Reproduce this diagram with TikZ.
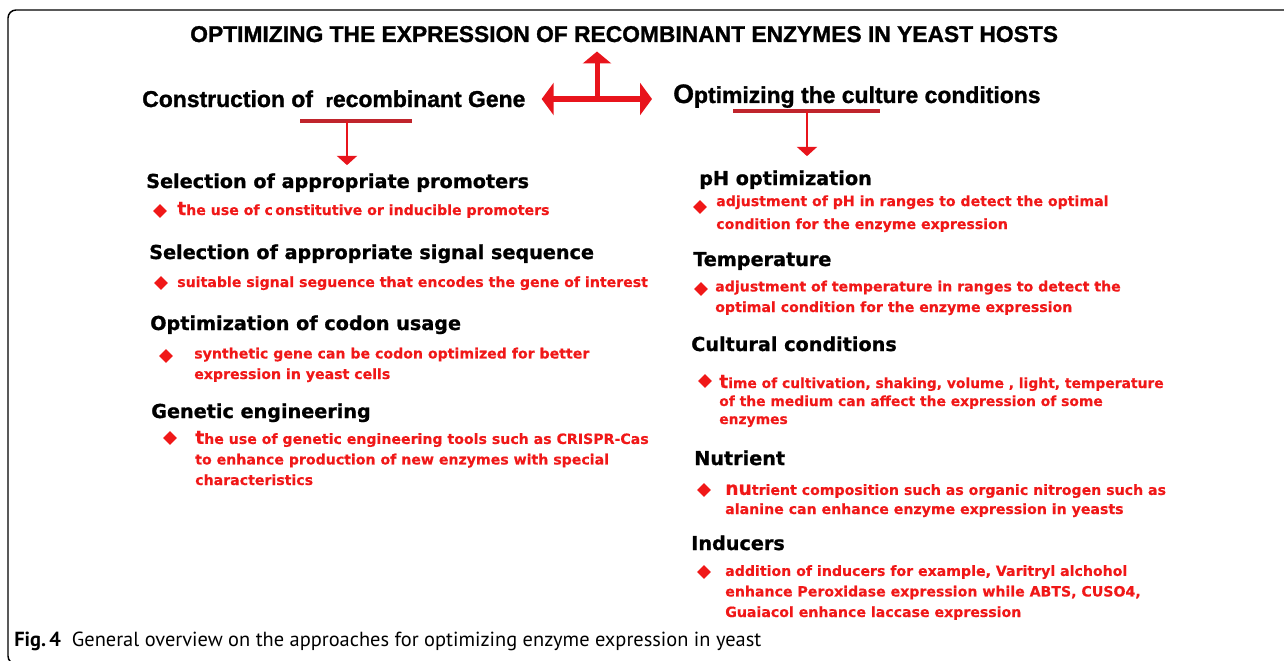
\documentclass[tikz,border=0pt]{standalone}
\usepackage{fontspec}
\setmainfont{DejaVu Sans}[BoldFeatures={FakeBold=0.4}]
\newfontfamily\headfont{DejaVu Sans}[BoldFeatures={FakeBold=1}]
\newfontfamily\titlefont{Liberation Sans}[BoldFeatures={FakeBold=1.2}]
\newfontfamily\capfont{PT Sans}
\usepackage{xcolor}
\usetikzlibrary{arrows.meta,shapes.geometric,calc}
\definecolor{txtred}{RGB}{240,24,24}
\definecolor{barred}{RGB}{192,36,44}
\definecolor{arrred}{RGB}{232,20,28}
\newcommand{\firstl}[1]{{\fontsize{14}{14}\selectfont #1}}

\begin{document}
\begin{tikzpicture}[
  x=0.75pt, y=-0.75pt,
  ttl/.style={font=\titlefont\bfseries\fontsize{17.2}{20}\selectfont, inner sep=0, anchor=base west},
  hd/.style={font=\headfont\bfseries\fontsize{14.4}{17}\selectfont, inner sep=0, anchor=base west},
  txt/.style={font=\bfseries\fontsize{10.6}{15.4}\selectfont, text=txtred, inner sep=0, anchor=base west, align=left},
  bul/.style={diamond, fill=txtred, inner sep=0, minimum width=10.5pt, minimum height=10.5pt},
  bar/.style={draw=barred, line width=3pt},
  darr/.style={draw=arrred, line width=2pt, -{Triangle[width=15pt,length=7pt]}},
  uarr/.style={draw=arrred, line width=3.75pt, -{Triangle[width=21pt,length=9pt]}},
  harr/.style={draw=arrred, line width=5pt, {Triangle[width=24pt,length=9pt]}-{Triangle[width=24pt,length=9pt]}},
  frame/.style={draw=black, line width=1.1pt, rounded corners=6pt}]
\useasboundingbox (0,0) rectangle (1284,660);
\draw[frame] (1290,10) -- (8,10) -- (8,664) -- (30,664);
% title and the two groups (multi-line texts sit on the baseline of their last line)
\node[ttl, font=\titlefont\bfseries\fontsize{17.1}{20}\selectfont] (title) at (190,42) {OPTIMIZING THE EXPRESSION OF RECOMBINANT ENZYMES IN YEAST HOSTS};
\node[ttl] (constr) at (142,107) {Construction of\ \ \firstl{r}ecombinant Gene};
\node[ttl] (optim) at (673,103) {{\fontsize{20}{20}\selectfont O}ptimizing the culture conditions};
\coordinate (hub) at (597,99);
\coordinate (lbar) at (347,121);
\coordinate (rbar) at (807,111);
\draw[bar] (300,121) -- (412,121);
\draw[bar] (733,111) -- (880,111);
% left column
\node[hd] (selprom) at (146,188) {Selection of appropriate promoters};
\node[bul] (bprom) at (160,211) {};
\node[txt] (tprom) at (177,215) {\firstl{t}he use of c\,onstitutive or inducible promoters};
\node[hd] (selsig) at (149,259) {Selection of appropriate signal sequence};
\node[bul] (bsig) at (161,283) {};
\node[txt] (tsig) at (177,287) {suitable signal seguence that encodes the gene of interest};
\node[hd] (codon) at (150,330) {Optimization of codon usage};
\node[bul] (bcod) at (166,356) {};
\node[txt] (tcod) at (194,379) {synthetic gene can be codon optimized for better\\expression in yeast cells};
\node[hd] (geneng) at (151,418) {Genetic engineering};
\node[bul] (bgen) at (170,438) {};
\node[txt] (tgen) at (195,485) {\firstl{t}he use of genetic engineering tools such as CRISPR-Cas\\to enhance production of new enzymes with special\\characteristics};
% right column
\node[hd] (phopt) at (699,185) {pH optimization};
\node[bul] (bph) at (700,207) {};
\node[txt, font=\bfseries\fontsize{10.6}{17.2}\selectfont] (tph) at (716,229) {adjustment of pH in ranges to detect the optimal\\condition for the enzyme expression};
\node[hd] (temp) at (693,266) {Temperature};
\node[bul] (btemp) at (701,289) {};
\node[txt] (ttemp) at (715,312) {adjustment of temperature in ranges to detect the\\optimal condition for the enzyme expression};
\node[hd] (cult) at (691,351) {Cultural conditions};
\node[bul] (bcult) at (705,381) {};
\node[txt, font=\bfseries\fontsize{10.4}{13.5}\selectfont] (tcult) at (719,424) {\firstl{t}ime of cultivation, shaking, volume , light, temperature\\of the medium can affect the expression of some\\enzymes};
\node[hd] (nutr) at (694,465) {Nutrient};
\node[bul] (bnutr) at (704,490) {};
\node[txt, font=\bfseries\fontsize{10.6}{14.3}\selectfont] (tnutr) at (725,514) {\firstl{nu}trient composition such as organic nitrogen such as\\alanine can enhance enzyme expression in yeasts};
\node[hd] (induc) at (691,550) {Inducers};
\node[bul] (bind) at (704,572) {};
\node[txt] (tind) at (725,617) {addition of inducers for example, Varitryl alchohol\\enhance Peroxidase expression while ABTS, CUSO4,\\Guaiacol enhance laccase expression};
% caption
\node[font=\capfont\fontsize{15.3}{18}\selectfont, inner sep=0, anchor=base west] (cap) at (14,646) {\textbf{Fig.\,4}\ \ General overview on the approaches for optimizing enzyme expression in yeast};
% arrows
\draw[uarr, shorten >=6.75pt] (hub) -- (hub |- title.south);
\draw[harr] ($(constr.east |- hub)+(16,0)$) -- ($(optim.west |- hub)+(-21,0)$);
\draw[darr, shorten >=6pt] (lbar) -- (lbar |- selprom.north);
\draw[darr, shorten >=10.5pt] (rbar) -- (rbar |- phopt.north);
\end{tikzpicture}
\end{document}
